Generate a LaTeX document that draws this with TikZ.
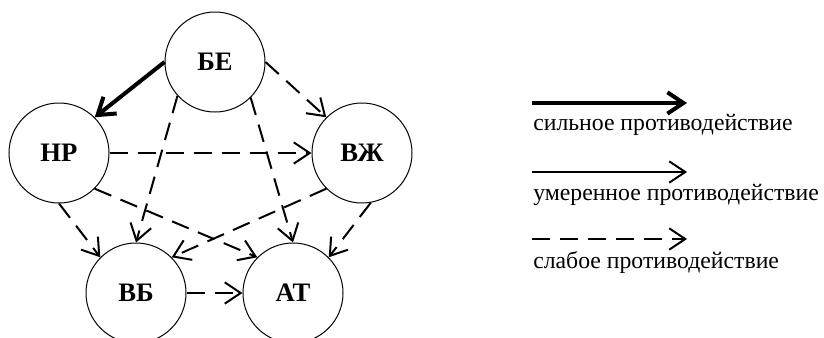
\documentclass[tikz,border=0pt]{standalone}
\usepackage{fontspec}
\setmainfont{Liberation Serif}
\usetikzlibrary{arrows.meta}

\begin{document}
\begin{tikzpicture}[
    x = 0.75pt, y = 0.75pt,
    font = \fontsize{17.8}{21}\selectfont,
    agent/.style = {draw, circle, line width = 0.75pt, minimum size = 75pt, inner sep = 0pt, font = \fontsize{20}{24}\selectfont\bfseries},
    strong/.style = {line width = 3pt},
    medium/.style = {line width = 1.5pt},
    weak/.style = {line width = 1.5pt, dash pattern = on 13.5pt off 7.5pt},
    tip/.style = {-{Straight Barb[length = 12pt, width = 16pt]}},
    legtext/.style = {anchor = base west, inner sep = 0pt}
]
\useasboundingbox (0,0) rectangle (824,337);
\node[agent] (be) at (215,275) {БЕ};
\node[agent] (nr) at (59,184) {НР};
\node[agent] (vzh) at (362,184) {ВЖ};
\node[agent] (vb) at (136,44) {ВБ};
\node[agent] (at) at (293,44) {АТ};
% arrows
\path[tip]
(be.180) edge[strong] (nr.45)
(be.0) edge[weak] (vzh.135)
(be.222) edge[weak] (vb.90)
(be.315) edge[weak] (at.90)
(nr.0) edge[weak] (vzh.180)
(nr.270) edge[weak] (vb.135)
(nr.315) edge[weak] (at.135)
(vzh.225) edge[weak] (vb.45)
(vzh.280) edge[weak] (at.45)
(vb.0) edge[weak] (at.180);

% legend
\coordinate (s0) at (532,234);
\coordinate (s1) at (687,234);
\coordinate (m0) at (532,165);
\coordinate (m1) at (687,165);
\coordinate (w0) at (532,98);
\coordinate (w1) at (687,98);
\draw[tip, strong] (s0) -- (s1);
\draw[tip, medium] (m0) -- (m1);
\draw[tip, weak] (w0) -- (w1);
\node[legtext] (stext) at (533,207) {сильное противодействие};
\node[legtext] (mtext) at (533,137) {умеренное противодействие};
\node[legtext] (wtext) at (533,69) {слабое противодействие};
\end{tikzpicture}
\end{document}
